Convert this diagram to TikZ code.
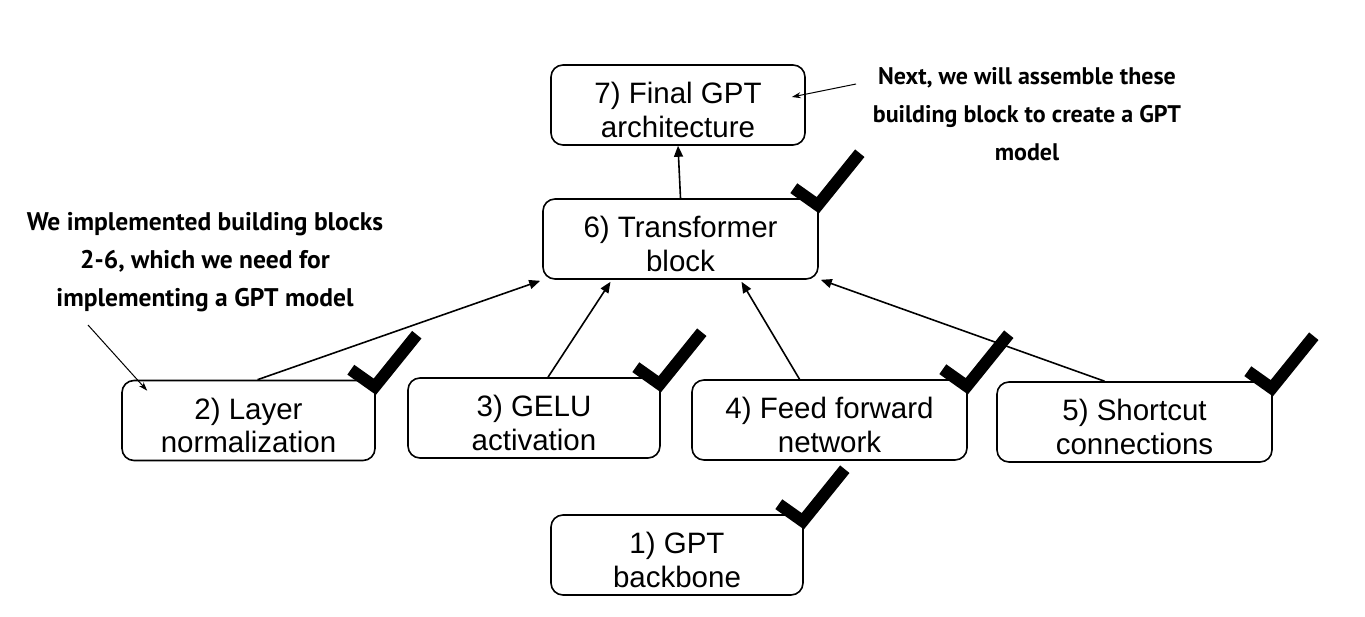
\documentclass[tikz,border=0pt]{standalone}
\usepackage{fontspec}
\setmainfont{Liberation Sans}
\newfontfamily\annfont{PT Sans}
\usetikzlibrary{arrows.meta,calc}
\newcommand\bxtext[2]{\rule{0pt}{31pt}#1\\#2}
\begin{document}
\begin{tikzpicture}[x=1pt,y=-1pt,
  box/.style={draw, line width=1.6pt, rounded corners=12pt, minimum height=80pt, align=center, inner sep=0pt, font=\fontsize{29.5}{33.5}\selectfont},
  conn/.style={line width=1.6pt, -{Triangle[length=11pt,width=9pt]}},
  note/.style={align=center, inner sep=0pt, font=\annfont\bfseries\fontsize{24}{38}\selectfont},
  noteline/.style={line width=1pt, -{Stealth[length=9pt,width=6pt]}},
  tick/.style={line width=12pt, line join=miter, line cap=butt}]
\useasboundingbox (0,0) rectangle (1365,616);
\fill[white] (0,0) rectangle (1365,616);
% boxes
\node[box, minimum width=254pt] (b7) at (678,105) {\bxtext{7) Final GPT}{architecture}};
\node[box, minimum width=275pt] (b6) at (680.5,239) {\bxtext{6) Transformer}{block}};
\node[box, minimum width=253pt] (b2) at (248.5,420.5) {\bxtext{2) Layer}{normalization}};
\node[box, minimum width=252pt] (b3) at (534,418) {\bxtext{3) GELU}{activation}};
\node[box, minimum width=275pt] (b4) at (829.5,420) {\bxtext{4) Feed forward}{network}};
\node[box, minimum width=275pt] (b5) at (1134.5,422) {\bxtext{5) Shortcut}{connections}};
\node[box, minimum width=252pt] (b1) at (677,555) {\bxtext{1) GPT}{backbone}};
% connectors
\draw[conn] ($(b2.north)+(9,0)$) -- ($(b6.south west)+(-2,1)$);
\draw[conn] ($(b3.north)+(14,0)$) -- ($(b6.south)+(-70,2)$);
\draw[conn] ($(b4.north)+(-30,0)$) -- ($(b6.south)+(61,2)$);
\draw[conn] ($(b5.north)+(-30,0)$) -- ($(b6.south east)+(2,0)$);
\draw[conn] (b6.north) -- (b7.south);
% annotations
\node[note] (n1) at (1027,114) {Next, we will assemble these\\building block to create a GPT\\model};
\node[note, font=\annfont\bfseries\fontsize{25.5}{38}\selectfont] (n2) at (205,262) {We implemented building blocks\\2-6, which we need for\\implementing a GPT model};
\coordinate (n1s) at (856,84);
\coordinate (n2s) at (88,325);
\draw[noteline] (n1s) -- ($(b7.east)+(-14,-8)$);
\draw[noteline] (n2s) -- ($(b2.north west)+(26,11)$);
% check marks
\foreach \b in {b6,b2,b3,b4,b5,b1}{
  \draw[tick] ($(\b.north east)+(-25,-10)$) -- ($(\b.north east)+(-1,7)$) -- ($(\b.north east)+(41,-45)$);
}
\end{tikzpicture}
\end{document}
